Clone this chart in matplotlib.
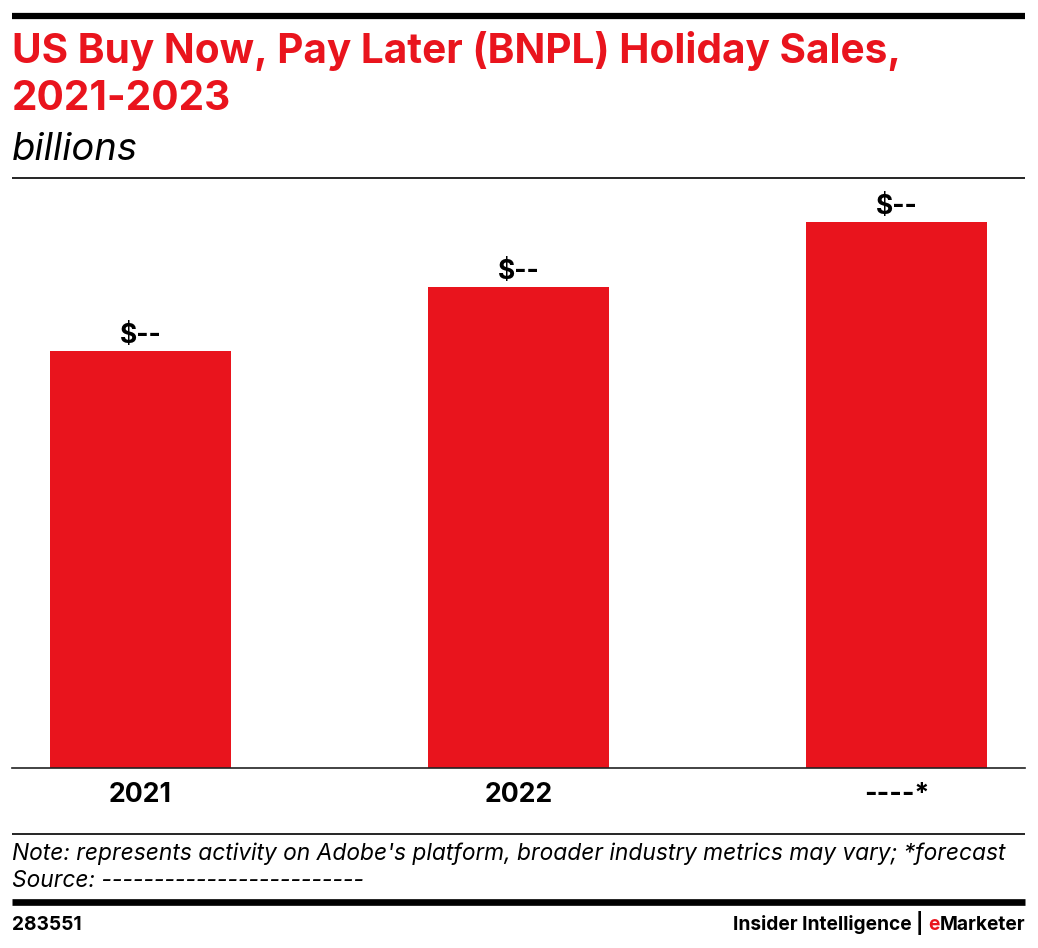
import matplotlib
matplotlib.use("Agg")
import matplotlib.pyplot as plt
from matplotlib.lines import Line2D

categories = ["2021", "2022", "----*"]
values = [7.64, 8.81, 10.0]
value_labels = ["$--", "$--", "$--"]

RED = "#E9141D"
FONT = "Inter"

fig = plt.figure(figsize=(10.38, 9.48), dpi=100)
W, H = 1038, 948

def fx(px):
    return px / W

def fy(py):
    return 1 - py / H

# rules
fig.add_artist(Line2D([fx(12), fx(1025)], [fy(16), fy(16)], color="black", lw=4.5, solid_capstyle="butt"))
fig.add_artist(Line2D([fx(12), fx(1025)], [fy(178), fy(178)], color="black", lw=1.2, solid_capstyle="butt"))
fig.add_artist(Line2D([fx(12), fx(1025)], [fy(834), fy(834)], color="black", lw=1.2, solid_capstyle="butt"))
fig.add_artist(Line2D([fx(12), fx(1025)], [fy(902), fy(902)], color="black", lw=4.8, solid_capstyle="butt"))

# titles
fig.text(fx(12), fy(63), "US Buy Now, Pay Later (BNPL) Holiday Sales,", color=RED,
         fontsize=29.2, fontweight="bold", family=FONT, ha="left", va="baseline")
fig.text(fx(12), fy(110), "2021-2023", color=RED,
         fontsize=29.2, fontweight="bold", family=FONT, ha="left", va="baseline")
fig.text(fx(12), fy(160), "billions", color="black",
         fontsize=27.5, fontstyle="italic", family=FONT, ha="left", va="baseline")

# axes
ax = fig.add_axes([fx(12), fy(768), fx(1025) - fx(12), fy(178) - fy(768)])
x = list(range(len(categories)))
bars = ax.bar(x, values, width=0.48, color=RED, zorder=2)
ax.set_xlim(-0.34, 2.34)
ax.set_ylim(0, 10.8)
for s in ["top", "left", "right"]:
    ax.spines[s].set_visible(False)
ax.spines["bottom"].set_linewidth(1.2)
ax.spines["bottom"].set_color("#222222")
ax.set_yticks([])
ax.set_xticks(x)
ax.set_xticklabels(categories, fontsize=19.2, fontweight="bold", family=FONT)
ax.tick_params(axis="x", length=0, pad=10)
for xi, v, lab in zip(x, values, value_labels):
    ax.annotate(lab, (xi, v), xytext=(0, 1), textcoords="offset points",
                ha="center", va="bottom", fontsize=19, fontweight="bold", family=FONT)

# notes
fig.text(fx(12), fy(860), "Note: represents activity on Adobe's platform, broader industry metrics may vary; *forecast",
         fontsize=16.4, fontstyle="italic", family=FONT, ha="left", va="baseline")
fig.text(fx(12), fy(887), "Source: -------------------------",
         fontsize=16.4, fontstyle="italic", family=FONT, ha="left", va="baseline")

# footer
FS = 13.8
fig.text(fx(12), fy(930), "283551", fontsize=FS, fontweight="bold", family=FONT, ha="left", va="baseline")
fig.canvas.draw()
r = fig.canvas.get_renderer()
figw = fig.bbox.width
t3 = fig.text(fx(1025), fy(930), "Marketer", fontsize=FS, fontweight="bold",
              family=FONT, ha="right", va="baseline", color="black")
w3 = t3.get_window_extent(r).width
t2 = fig.text(fx(1025) - w3 / figw, fy(930), "e", fontsize=FS, fontweight="bold",
              family=FONT, ha="right", va="baseline", color=RED)
w2 = t2.get_window_extent(r).width
fig.text(fx(1025) - (w3 + w2 + 5) / figw, fy(930), "Insider Intelligence |", fontsize=FS, fontweight="bold",
         family=FONT, ha="right", va="baseline", color="black")

fig.savefig("out.png", dpi=100)
